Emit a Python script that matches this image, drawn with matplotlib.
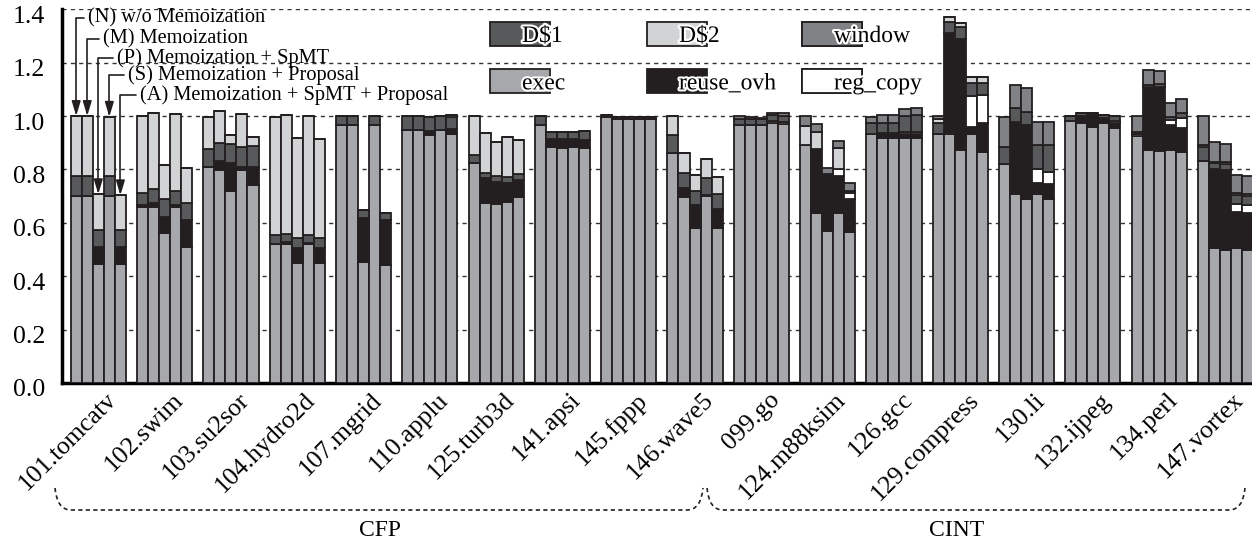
import numpy as np
import matplotlib
matplotlib.use("Agg")
import matplotlib.pyplot as plt
import matplotlib.patheffects as pe
import matplotlib.transforms as mtransforms
from matplotlib.patches import Patch, PathPatch
from matplotlib.path import Path

plt.rcParams['font.family'] = ['Liberation Serif', 'DejaVu Serif']

benchmarks = ['101.tomcatv', '102.swim', '103.su2sor', '104.hydro2d', '107.mgrid',
              '110.applu', '125.turb3d', '141.apsi', '145.fppp', '146.wave5',
              '099.go', '124.m88ksim', '126.gcc', '129.compress', '130.li',
              '132.ijpeg', '134.perl', '147.vortex']
configs = ['(N) w/o Memoization', '(M) Memoization', '(P) Memoization + SpMT',
           '(S) Memoization + Proposal', '(A) Memoization + SpMT + Proposal']

# segment heights, one row per benchmark, bars N M P S A
exec_t = [[.700, .700, .446, .700, .446],
          [.658, .658, .560, .658, .508],
          [.810, .798, .720, .798, .742],
          [.520, .520, .448, .520, .448],
          [.966, .966, .454, .966, .442],
          [.948, .948, .929, .948, .931],
          [.825, .675, .672, .677, .695],
          [.966, .885, .882, .885, .882],
          [.995, .988, .988, .988, .988],
          [.862, .698, .579, .700, .579],
          [.966, .966, .966, .975, .970],
          [.891, .638, .570, .638, .567],
          [.933, .916, .916, .916, .916],
          [.933, .933, .873, .933, .866],
          [.820, .708, .688, .708, .688],
          [.982, .975, .957, .975, .954],
          [.925, .873, .869, .873, .866],
          [.833, .507, .500, .507, .500]]
reuse_ovh = [[0, 0, .064, 0, .064],
             [.008, .015, .063, .010, .102],
             [0, .035, .103, .012, .062],
             [0, .008, .056, .006, .056],
             [0, 0, .163, 0, .168],
             [0, 0, .016, 0, .019],
             [0, .091, .082, .073, .065],
             [0, .027, .030, .027, .028],
             [0, 0, 0, 0, 0],
             [0, .031, .088, .005, .069],
             [0, 0, 0, 0, 0],
             [0, .237, .213, .137, .124],
             [0, .019, .019, .017, .017],
             [0, .379, .417, .027, .106],
             [0, .271, .278, .040, .057],
             [0, .025, .045, .013, .021],
             [0, .237, .241, .093, .088],
             [0, .293, .297, .135, .135]]
reg_copy = [[0, 0, 0, 0, 0],
            [0, 0, 0, 0, 0],
            [0, 0, 0, 0, .005],
            [0, 0, 0, 0, 0],
            [0, 0, 0, 0, 0],
            [0, 0, 0, 0, 0],
            [0, 0, 0, 0, 0],
            [0, 0, 0, 0, 0],
            [0, 0, 0, 0, 0],
            [0, 0, 0, 0, .005],
            [0, 0, 0, .005, .006],
            [0, 0, 0, .025, .022],
            [0, 0, 0, .007, .007],
            [0, 0, 0, .115, .107],
            [0, 0, 0, .052, .046],
            [0, 0, 0, .004, .005],
            [.006, .006, 0, .019, .037],
            [0, 0, 0, .028, .030]]
dcache1 = [[.075, .075, .063, .075, .063],
           [.044, .052, .065, .052, .065],
           [.065, .065, .072, .075, .079],
           [.034, .030, .038, .030, .038],
           [.034, .034, .031, .034, .028],
           [.052, .052, .050, .052, .048],
           [.029, .022, .021, .023, .023],
           [.034, .029, .029, .029, .035],
           [.007, .007, .007, .007, .007],
           [.067, .059, .052, .061, .054],
           [.022, .024, .022, .024, .024],
           [0, 0, 0, 0, .007],
           [.039, .040, .040, .060, .064],
           [.042, .041, .042, .050, .046],
           [.065, .050, .050, .091, .100],
           [.018, .012, .008, .012, .020],
           [.010, 0, .008, .010, .019],
           [.052, .023, .023, .034, .035]]
dcache2 = [[.225, .225, .134, .222, .130],
           [.290, .287, .128, .287, .129],
           [.122, .122, .035, .122, .034],
           [.443, .444, .374, .444, .372],
           [0, 0, 0, 0, 0],
           [0, 0, 0, 0, .007],
           [.146, .147, .128, .147, .127],
           [0, 0, 0, 0, 0],
           [0, 0, 0, 0, 0],
           [.071, .072, .060, .073, .063],
           [0, 0, 0, 0, 0],
           [.072, .066, 0, .081, 0],
           [0, 0, 0, 0, 0],
           [.015, .019, .018, .022, .022],
           [0, 0, 0, 0, 0],
           [0, 0, 0, 0, 0],
           [0, 0, 0, 0, 0],
           [.006, .006, .006, .006, .006]]
window = [[0, 0, 0, 0, 0],
          [0, 0, 0, 0, 0],
          [0, 0, 0, 0, 0],
          [0, 0, 0, 0, 0],
          [0, 0, 0, 0, 0],
          [0, 0, 0, 0, 0],
          [0, 0, 0, 0, 0],
          [0, 0, 0, 0, 0],
          [0, 0, 0, 0, 0],
          [0, 0, 0, 0, 0],
          [.012, .005, .004, .008, .010],
          [.037, .029, .024, .026, .030],
          [.025, .029, .029, .025, .025],
          [.010, 0, 0, 0, 0],
          [.112, .087, .088, .088, .088],
          [0, 0, 0, 0, 0],
          [.059, .056, .051, .055, .052],
          [.109, .075, .071, .069, .070]]

components = [('exec', exec_t, '#a7a8ab'),
              ('reuse_ovh', reuse_ovh, '#231f20'),
              ('reg_copy', reg_copy, '#ffffff'),
              ('D$1', dcache1, '#58595b'),
              ('D$2', dcache2, '#d1d3d4'),
              ('window', window, '#808285')]
edge = '#231f20'

W, H = 1252, 541
fig = plt.figure(figsize=(W / 100, H / 100), dpi=100)
ax = fig.add_axes([62 / W, (H - 383) / H, (W - 62) / W, (383 - 9.2) / H])

nb = len(benchmarks)
xpos = np.array([[g * 6 + j for j in range(5)] for g in range(nb)], float)
bottom = np.zeros((nb, 5))
for name, vals, col in components:
    v = np.array(vals)
    ax.bar(xpos.ravel(), v.ravel(), 1.0, bottom=bottom.ravel(), color=col,
           edgecolor=edge, linewidth=1.3, zorder=3)
    bottom += v

ax.set_xlim(-1.285, 106.4)
ax.set_ylim(0, 1.4)
ax.set_yticks(np.arange(0, 1.41, 0.2))
ax.set_yticklabels(['%.1f' % t for t in np.arange(0, 1.41, 0.2)])
ax.yaxis.grid(True, linestyle=(0, (3, 3)), color='#333333', linewidth=1.0)
ax.set_axisbelow(True)
for s in ['top', 'right']:
    ax.spines[s].set_visible(False)
ax.spines['left'].set_linewidth(2.5)
ax.spines['bottom'].set_linewidth(2.5)
ax.tick_params(axis='y', length=0, pad=12, labelsize=18.5)
ax.tick_params(axis='x', length=0, pad=4, labelsize=18.5)
down = mtransforms.ScaledTranslation(0, -5 / 100, fig.dpi_scale_trans)
for lab in ax.get_yticklabels():
    lab.set_transform(lab.get_transform() + down)

ax.set_xticks(xpos[:, 2])
ax.set_xticklabels(benchmarks, rotation=45, ha='right', va='top',
                   rotation_mode='anchor')
shift = mtransforms.ScaledTranslation(7 / 100, 0, fig.dpi_scale_trans)
for lab in ax.get_xticklabels():
    lab.set_transform(lab.get_transform() + shift)

# configuration call-outs on the first group
text_pos = [(1.07, 1.368), (2.4, 1.29), (3.7, 1.218), (4.7, 1.153), (5.8, 1.08)]
tops = bottom[0]
for j, lab in enumerate(configs):
    ax.annotate(lab, xy=(xpos[0, j], tops[j]), xytext=text_pos[j],
                ha='left', va='center', fontsize=14.7, zorder=5,
                arrowprops=dict(arrowstyle='-|>,head_length=0.6,head_width=0.18',
                                color='#231f20', lw=1.2, shrinkA=1, shrinkB=0,
                                connectionstyle='angle,angleA=0,angleB=90,rad=0'))

# legend as three columns
handles = {name: Patch(facecolor=col, edgecolor=edge, linewidth=1.3)
           for name, vals, col in components}
fs = 17
fpx = fs * 100 / 72
legend_cols = [(['D$1', 'exec'], 490), (['D$2', 'reuse_ovh'], 647),
               (['window', 'reg_copy'], 802)]
for names, px in legend_cols:
    lg = ax.legend([handles[n] for n in names], names, loc='upper left',
                   bbox_to_anchor=(px / W, 1 - 22 / H), bbox_transform=fig.transFigure,
                   frameon=False, fontsize=fs, borderpad=0, borderaxespad=0,
                   handlelength=60 / fpx, handleheight=28 / fpx,
                   handletextpad=-28 / fpx, labelspacing=0.95)
    for t in lg.get_texts():
        t.set_path_effects([pe.withStroke(linewidth=3, foreground='white')])
    lg.set_zorder(6)
    ax.add_artist(lg)


# dashed braces under the labels
def brace(x0, x1, ytop, ybot, r=16):
    pts = [(x0, ytop), (x0 + 2, ybot), (x0 + r, ybot), (x1 - r, ybot),
           (x1 - 2, ybot), (x1, ytop)]
    codes = [Path.MOVETO, Path.CURVE3, Path.CURVE3, Path.LINETO,
             Path.CURVE3, Path.CURVE3]
    verts = [(x / W, 1 - y / H) for x, y in pts]
    fig.add_artist(PathPatch(Path(verts, codes), transform=fig.transFigure,
                             fill=False, edgecolor='#231f20', lw=1.2,
                             linestyle=(0, (2.5, 2))))


brace(55, 703, 488, 510)
brace(707, 1245, 488, 510)
fig.text(380 / W, 1 - 530 / H, 'CFP', ha='center', va='center', fontsize=17)
fig.text(957 / W, 1 - 530 / H, 'CINT', ha='center', va='center', fontsize=17)

fig.savefig('out.png', dpi=100)
